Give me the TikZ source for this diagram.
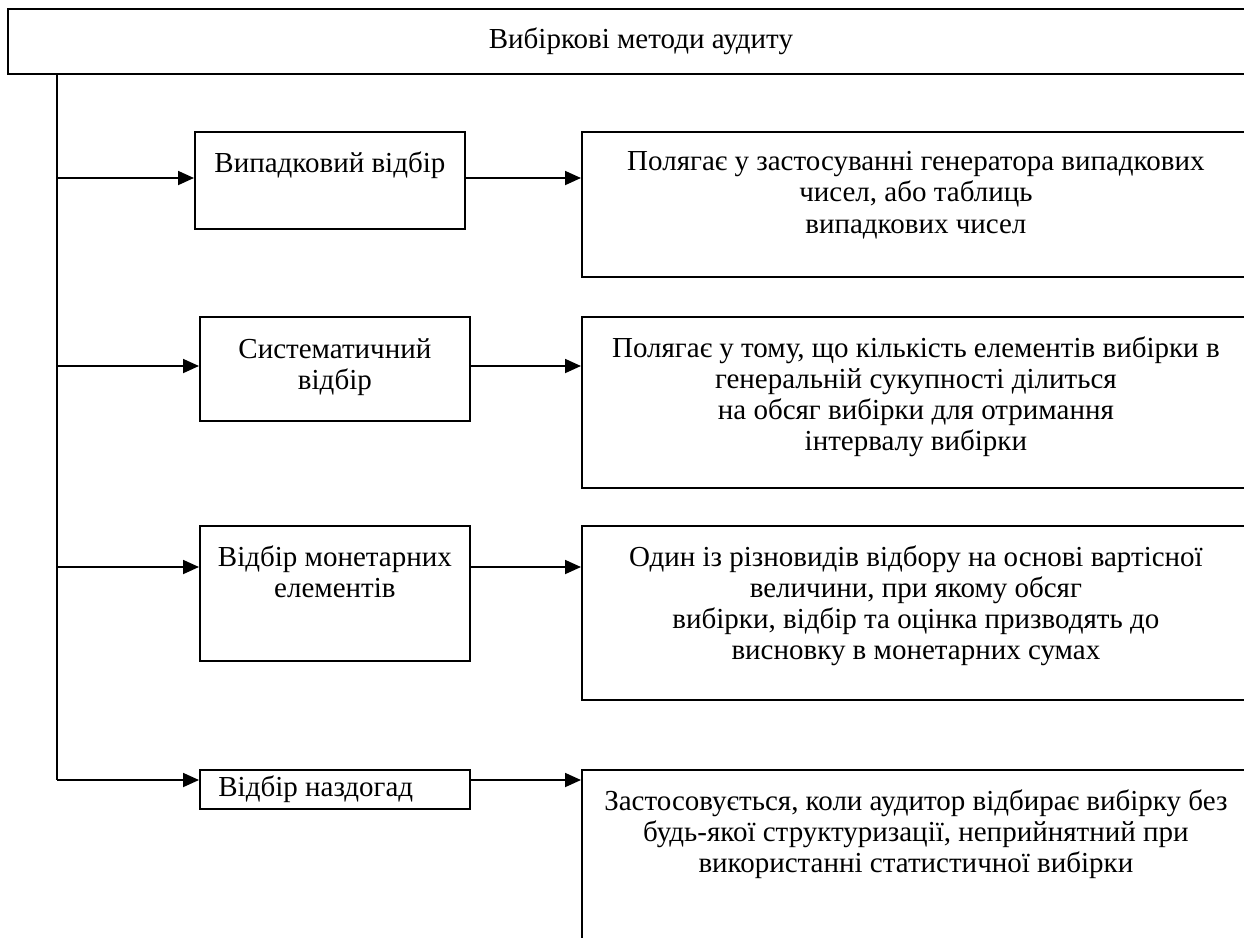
\documentclass[tikz,border=0pt]{standalone}
\usepackage{fontspec}
\setmainfont{Liberation Serif}
\usetikzlibrary{arrows.meta,positioning,calc}
\begin{document}
\begin{tikzpicture}[
    x=0.5pt, y=-0.5pt,
    font=\fontsize{14.5}{15.6}\selectfont,
    frame/.style={draw, line width=0.9pt, anchor=north west, inner sep=0pt},
    title/.style={frame, minimum width=633pt, minimum height=32.5pt},
    method/.style={frame, minimum width=135pt},
    note/.style={frame, minimum width=334pt},
    txt/.style={align=center, inner sep=0pt, anchor=north},
    arrow/.style={-{Triangle[length=8pt, width=7pt]}, line width=0.9pt}
]
\useasboundingbox (0,0) rectangle (1244,938);
\clip (0,0) rectangle (1244,938);

\node[title] (head) at (7,8) {Вибіркові методи аудиту};

% methods
\node[method, minimum height=48.5pt] (random) at (194,131) {};
\node[method, minimum height=52pt] (system) at (199,316) {};
\node[method, minimum height=67.5pt] (money) at (199,525) {};
\node[method, minimum height=19.5pt] (guess) at (199,769) {};

\node[txt] (t-random) at ([yshift=-10pt]random.north) {Випадковий відбір};
\node[txt] (t-system) at ([yshift=-11pt]system.north) {Систематичний\\ відбір};
\node[txt] (t-money) at ([yshift=-10pt]money.north) {Відбір монетарних\\ елементів};
\node[txt, anchor=north west] (t-guess) at ([xshift=9.5pt, yshift=-3pt]guess.north west) {Відбір наздогад};

% descriptions
\node[note, minimum height=72.5pt] (d-random) at (581,131) {};
\node[note, minimum height=85.5pt] (d-system) at (581,316) {};
\node[note, minimum height=87pt] (d-money) at (581,525) {};
\node[note, minimum height=115pt] (d-guess) at (581,769) {};

\node[txt] (t-d-random) at ([yshift=-10pt]d-random.north) {Полягає у застосуванні генератора випадкових\\ чисел, або таблиць\\ випадкових чисел};
\node[txt] (t-d-system) at ([yshift=-10pt]d-system.north) {Полягає у тому, що кількість елементів вибірки в\\ генеральній сукупності ділиться\\ на обсяг вибірки для отримання\\ інтервалу вибірки};
\node[txt] (t-d-money) at ([yshift=-10pt]d-money.north) {Один із різновидів відбору на основі вартісної\\ величини, при якому обсяг\\ вибірки, відбір та оцінка призводять до\\ висновку в монетарних сумах};
\node[txt] (t-d-guess) at ([yshift=-10pt]d-guess.north) {Застосовується, коли аудитор відбирає вибірку без\\ будь-якої структуризації, неприйнятний при\\ використанні статистичної вибірки};

% branch points on the trunk
\coordinate (j1) at (57,178);
\coordinate (j2) at (57,366);
\coordinate (j3) at (57,567);
\coordinate (j4) at (57,780);

\draw[line width=0.9pt] (head.south -| j1) -- (j4);

\draw[arrow] (j1) -- (j1 -| random.west);
\draw[arrow] (j2) -- (j2 -| system.west);
\draw[arrow] (j3) -- (j3 -| money.west);
\draw[arrow] (j4) -- (j4 -| guess.west);

\draw[arrow] (j1 -| random.east) -- (j1 -| d-random.west);
\draw[arrow] (j2 -| system.east) -- (j2 -| d-system.west);
\draw[arrow] (j3 -| money.east) -- (j3 -| d-money.west);
\draw[arrow] (j4 -| guess.east) -- (j4 -| d-guess.west);

\end{tikzpicture}
\end{document}
